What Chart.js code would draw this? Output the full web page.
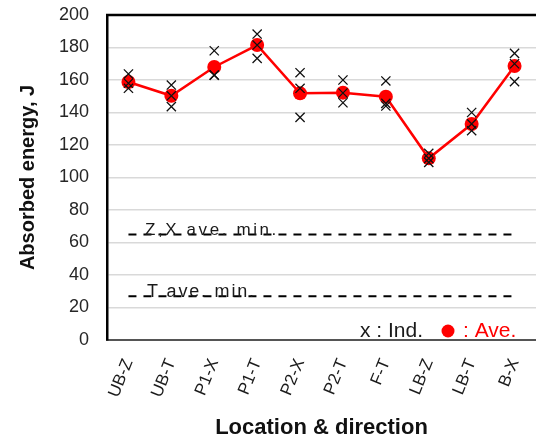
<!DOCTYPE html>
<html>
<head>
<meta charset="utf-8">
<script src="https://cdn.jsdelivr.net/npm/chart.js@4/dist/chart.umd.min.js"></script>
<style>
html,body{margin:0;padding:0;background:#fff;}
canvas{display:block;}
</style>
</head>
<body>
<canvas id="c" width="536" height="443"></canvas>
<script>
// ---- data ----
const categories = ['UB-Z','UB-T','P1-X','P1-T','P2-X','P2-T','F-T','LB-Z','LB-T','B-X'];
const averages   = [158.8, 150.3, 168.0, 181.5, 151.8, 152.2, 149.7, 111.8, 132.9, 168.6];
const individual1 = [163.7, 156.9, 178.0, 188.3, 164.5, 160.0, 159.4, 114.9, 140.0, 176.4];
const individual2 = [158.0, 150.3, 163.0, 181.5, 154.9, 152.0, 145.6, 111.8, 133.0, 170.0];
const individual3 = [154.9, 143.6, 163.0, 173.3, 137.0, 146.0, 144.0, 109.3, 128.8, 159.0];
const zxAveMin = 65;
const tAveMin = 27;
const yTicks = [0, 20, 40, 60, 80, 100, 120, 140, 160, 180, 200];
const thresholdLabels = ['Z,X ave. min.', 'T ave. min.'];
const legendTexts = ['x : Ind.', ': Ave.'];

const FONT = "'Liberation Sans', Arial, sans-serif";
const constLine = v => categories.map(() => v);

const annotPlugin = {
  id: 'annot',
  afterDatasetsDraw(chart) {
    const {ctx, chartArea: a, scales: {y}} = chart;
    ctx.save();
    // top frame line
    ctx.strokeStyle = '#000';
    ctx.lineWidth = 2.5;
    ctx.beginPath();
    ctx.moveTo(a.left - 1, a.top);
    ctx.lineTo(a.right, a.top);
    ctx.stroke();

    // threshold labels
    ctx.fillStyle = '#1a1a1a';
    ctx.textAlign = 'left';
    ctx.textBaseline = 'alphabetic';
    ctx.font = '17px ' + FONT;
    ctx.letterSpacing = '2.6px';
    ctx.fillText(thresholdLabels[0], a.left + 38, y.getPixelForValue(zxAveMin) + 1);
    ctx.font = '18px ' + FONT;
    ctx.letterSpacing = '1.8px';
    ctx.fillText(thresholdLabels[1], a.left + 40, y.getPixelForValue(tAveMin) + 1);
    ctx.letterSpacing = '0px';

    // legend-like text
    ctx.font = '21px ' + FONT;
    ctx.fillStyle = '#1a1a1a';
    const base = a.bottom - 3;
    ctx.fillText(legendTexts[0], a.right - 176, base);
    ctx.fillStyle = '#ff0000';
    ctx.beginPath();
    ctx.arc(a.right - 88, base - 6, 6.5, 0, Math.PI * 2);
    ctx.fill();
    ctx.fillText(legendTexts[1], a.right - 73, base);
    ctx.restore();
  }
};

new Chart(document.getElementById('c'), {
  type: 'line',
  data: {
    labels: categories,
    datasets: [
      {
        label: 'Z,X ave. min', data: constLine(zxAveMin),
        borderColor: '#000', borderWidth: 2, borderDash: [8, 7],
        pointRadius: 0, fill: false, order: 5
      },
      {
        label: 'T ave. min', data: constLine(tAveMin),
        borderColor: '#000', borderWidth: 2, borderDash: [8, 7],
        pointRadius: 0, fill: false, order: 5
      },
      {
        label: 'Ave.', data: averages,
        borderColor: '#ff0000', backgroundColor: '#ff0000', borderWidth: 2.5,
        pointRadius: 7, pointHoverRadius: 7, pointBorderWidth: 0,
        tension: 0, fill: false, order: 2
      },
      {
        label: 'Ind. 1', data: individual1, showLine: false,
        pointStyle: 'crossRot', pointRadius: 6.5, borderColor: '#111', pointBorderWidth: 1.3, order: 1
      },
      {
        label: 'Ind. 2', data: individual2, showLine: false,
        pointStyle: 'crossRot', pointRadius: 6.5, borderColor: '#111', pointBorderWidth: 1.3, order: 1
      },
      {
        label: 'Ind. 3', data: individual3, showLine: false,
        pointStyle: 'crossRot', pointRadius: 6.5, borderColor: '#111', pointBorderWidth: 1.3, order: 1
      }
    ]
  },
  options: {
    responsive: false,
    animation: false,
    layout: { autoPadding: false, padding: { top: 15, right: 0, left: 0, bottom: 0 } },
    plugins: { legend: { display: false }, tooltip: { enabled: false } },
    scales: {
      x: {
        offset: true,
        grid: { display: false },
        border: { display: true, color: '#555', width: 2 },
        ticks: {
          color: '#1a1a1a', font: { family: FONT, size: 17 },
          minRotation: 68, maxRotation: 68, padding: 8, autoSkip: false
        },
        title: {
          display: true, text: 'Location & direction', color: '#111',
          font: { family: FONT, size: 22, weight: 'bold' }, padding: { top: 0, bottom: 2 }
        },
        afterFit(s) { s.height = 103; s.paddingLeft = 0; s.paddingRight = 0; }
      },
      y: {
        min: 0, max: 200,
        afterBuildTicks(s) { s.ticks = yTicks.map(v => ({ value: v })); },
        grid: { color: '#d9d9d9', lineWidth: 1.5, drawTicks: false },
        border: { display: true, color: '#000', width: 2.5 },
        ticks: { color: '#262626', font: { family: FONT, size: 18 }, padding: 18 },
        title: {
          display: true, text: 'Absorbed energy, J', color: '#111',
          font: { family: FONT, size: 20, weight: 'bold' }, padding: { top: 16, bottom: 0 }
        },
        afterFit(s) { s.width = 107; s.paddingTop = 0; s.paddingBottom = 0; }
      }
    }
  },
  plugins: [annotPlugin]
});
</script>
</body>
</html>
